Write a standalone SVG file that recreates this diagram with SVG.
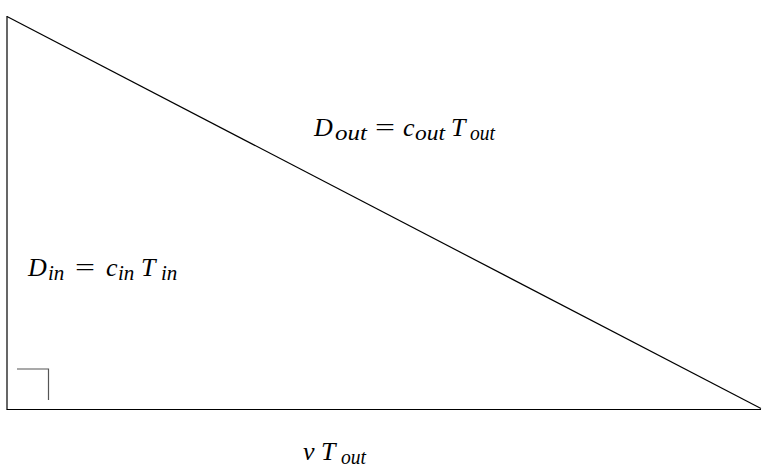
<svg xmlns="http://www.w3.org/2000/svg" width="762" height="470" viewBox="0 0 762 470">
<style>
.m{font-family:"Liberation Serif","Times New Roman",serif;font-style:italic;font-size:26px;fill:#000}
.s{font-size:21px}
.u{font-style:normal}
.edge{stroke:#000;stroke-width:1.2;fill:none}
</style>
<rect width="762" height="470" fill="#fff"/>
<g id="edges">
<line class="edge" x1="7" y1="16" x2="7" y2="409.5"/>
<line class="edge" x1="6.5" y1="409.5" x2="761" y2="409.5"/>
<line class="edge" x1="7" y1="16.5" x2="761" y2="408.5"/>
<polyline id="right-angle" points="17,369 48.5,369 48.5,400" stroke="#555" stroke-width="1.2" fill="none"/>
</g>
<g id="label-hyp">
<text class="m" y="136"><tspan x="314">D</tspan><tspan class="s" x="335" dy="3.5" textLength="32" lengthAdjust="spacingAndGlyphs">out</tspan><tspan class="u" x="375" dy="-3.5" textLength="20" lengthAdjust="spacingAndGlyphs">=</tspan><tspan x="403">c</tspan><tspan class="s" x="415" dy="3.5" textLength="30" lengthAdjust="spacingAndGlyphs">out</tspan><tspan x="451" dy="-3.5">T</tspan><tspan class="s" x="470" dy="3.5" textLength="25" lengthAdjust="spacingAndGlyphs">out</tspan></text>
</g>
<g id="label-left">
<text class="m" y="276"><tspan x="28">D</tspan><tspan class="s" x="48" dy="3.5">in</tspan><tspan class="u" x="75" dy="-3.5" textLength="20" lengthAdjust="spacingAndGlyphs">=</tspan><tspan x="106">c</tspan><tspan class="s" x="118" dy="3.5">in</tspan><tspan x="141" dy="-3.5">T</tspan><tspan class="s" x="161" dy="3.5">in</tspan></text>
</g>
<g id="label-bottom">
<text class="m" y="460"><tspan x="303">v</tspan><tspan x="321">T</tspan><tspan class="s" x="341" dy="3.5" textLength="25" lengthAdjust="spacingAndGlyphs">out</tspan></text>
</g>
</svg>
